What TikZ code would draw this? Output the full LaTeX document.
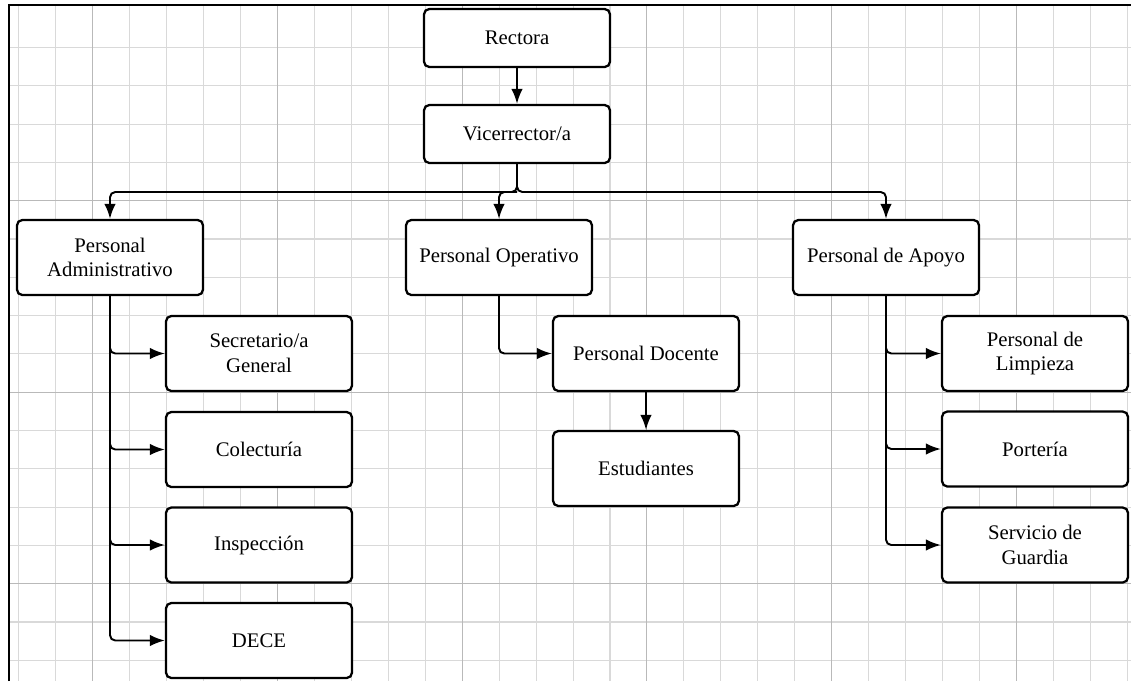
\documentclass[tikz,border=0pt]{standalone}
\usepackage{fontspec}
\setmainfont{Liberation Serif}
\usetikzlibrary{positioning,arrows.meta}

\tikzset{
  caja/.style={draw, line width=1.3pt, rounded corners=3pt, fill=white,
    minimum width=3.72cm, minimum height=1.5cm, align=center,
    font=\fontsize{11.8}{14}\selectfont},
  caja baja/.style={caja, minimum height=1.16cm},
  flecha/.style={-{Latex[length=8.5pt,width=6.5pt]}, line width=1.1pt, rounded corners=3pt},
  gris/.style={gray!30, line width=0.6pt},
  gris oscuro/.style={gray!55, line width=0.6pt},
}

\begin{document}
\begin{tikzpicture}[x=0.02cm,y=-0.02cm]
\useasboundingbox (0,0) rectangle (1131,681);

%%% cuadricula
\foreach \i in {-2,...,28}
  \draw[gris] ({92.7+36.95*\i},5) -- ({92.7+36.95*\i},681);
\foreach \j in {-4,...,12}
  \draw[gris] (9,{200.7+38.3*\j}) -- (1131,{200.7+38.3*\j});
\foreach \i in {0,5,...,25}
  \draw[gris oscuro] ({92.7+36.95*\i},5) -- ({92.7+36.95*\i},681);
\foreach \j in {0,5,10}
  \draw[gris oscuro] (9,{200.7+38.3*\j}) -- (1131,{200.7+38.3*\j});

%% marco
\draw[line width=1.2pt] (9,681) -- (9,5) -- (1131,5);
%%%

%% cajas
\node[caja baja] (rectora) at (517,38) {Rectora};
\node[caja baja] (vice) at (517,134) {Vicerrector/a};

\node[caja] (admin) at (110,257.5) {Personal\\Administrativo};
\node[caja] (oper) at (499,257.5) {Personal Operativo};
\node[caja] (apoyo) at (886,257.5) {Personal de Apoyo};

% administrativo
\node[caja] (secre) at (259,353.5) {Secretario/a\\General};
\node[caja] (colec) at (259,449.5) {Colecturía};
\node[caja] (insp) at (259,545) {Inspección};
\node[caja] (dece) at (259,640.5) {DECE};

% operativo
\node[caja] (docente) at (646,353.5) {Personal Docente};
\node[caja] (estud) at (646,468.5) {Estudiantes};

% apoyo
\node[caja] (limp) at (1035,353.5) {Personal de\\Limpieza};
\node[caja] (port) at (1035,449) {Portería};
\node[caja] (guard) at (1035,545) {Servicio de\\Guardia};

%% flechas
\coordinate (barra) at (517,192);
\draw[flecha] (rectora) -- (vice);
\draw[flecha] (vice.south) -- (barra) -| (admin.north);
\draw[flecha] (vice.south) -- (barra) -| (apoyo.north);
\draw[flecha] (barra) -| (oper.north);

\foreach \n in {secre,colec,insp,dece}
  \draw[flecha] (admin.south) |- (\n.west);

\draw[flecha] (oper.south) |- (docente.west);
\draw[flecha] (docente) -- (estud);

\foreach \n in {limp,port,guard}
  \draw[flecha] (apoyo.south) |- (\n.west);

\end{tikzpicture}
\end{document}
